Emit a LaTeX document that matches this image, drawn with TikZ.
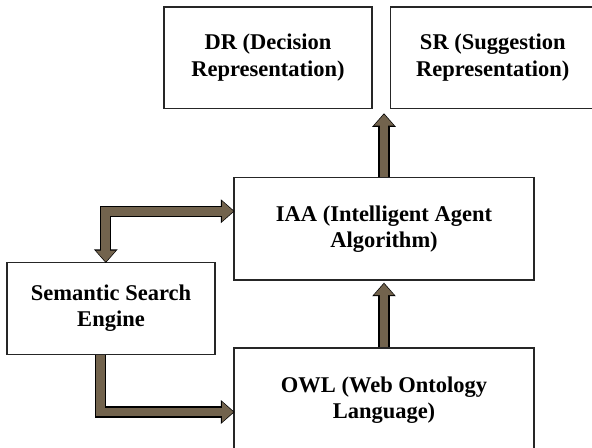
\documentclass[tikz,border=0pt]{standalone}
\usepackage{fontspec}
\setmainfont{Liberation Serif}
\usetikzlibrary{calc,arrows.meta}

\definecolor{flowbrown}{RGB}{114,99,77}

\begin{document}
\begin{tikzpicture}[block/.style={draw=black!85,line width=0.9pt,fill=white,align=center,
                                  font=\fontsize{16}{18.5}\selectfont\bfseries},
                    wide block/.style={block,minimum width=7.5cm,minimum height=2.56cm},
                    flowtip/.tip={Triangle[length=0.28cm,width=0.48cm]},
                    rimtip/.tip={Triangle[length=0.34cm,width=0.57cm]},
                    flow/.style={line width=0.22cm,draw=flowbrown,-flowtip,
                                 preaction={draw=black,line width=0.28cm,-rimtip,shorten >=-0.03cm}},
                    flow both/.style={line width=0.22cm,draw=flowbrown,flowtip-flowtip,
                                      preaction={draw=black,line width=0.28cm,rimtip-rimtip,
                                                 shorten >=-0.03cm,shorten <=-0.03cm}}]
      \useasboundingbox (0,0) rectangle (14.8,11.2);
      \clip (0,0) rectangle (14.8,11.2);

      \node[block,minimum width=5.2cm,minimum height=2.53cm] (dr) at (6.7,9.76) {
        DR (Decision\\
        Representation)
      };
      \node[block,minimum width=5.13cm,minimum height=2.53cm] (sr) at (12.32,9.76) {
        SR (Suggestion\\
        Representation)
      };

      \node[wide block] (iaa) at (9.6,5.48) {
        IAA (Intelligent Agent\\
        Algorithm)
      };
      \node[block,minimum width=5.2cm,minimum height=2.3cm] (sse) at (2.775,3.49) {
        Semantic Search\\
        Engine
      };
      \node[wide block,minimum height=2.6cm] (owl) at (9.6,1.2) {
        OWL (Web Ontology\\
        Language)
      };

      \coordinate (fork) at ($ (iaa.north |- dr.south) + (0,-0.14) $);

      \draw[flow] (iaa.north) -- (fork);
      \draw[flow] (owl.north) -- ($ (iaa.south) + (0,-0.08) $);
      \draw[flow both] ($ (sse.north) + (-0.13,0) $) |- ($ (iaa.west) + (0,0.44) $);
      \draw[flow] ($ (sse.south) + (-0.265,0) $) |- ($ (owl.west) + (0,-0.3) $);
    \end{tikzpicture}
\end{document}
